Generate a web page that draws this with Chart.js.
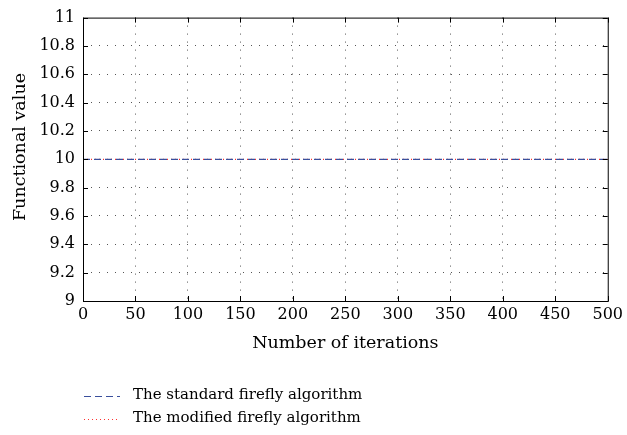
<!DOCTYPE html>
<html>
<head>
<meta charset="utf-8">
<script src="https://cdn.jsdelivr.net/npm/chart.js@4"></script>
<style>
  html, body { margin: 0; padding: 0; background: #fff; }
  canvas { display: block; }
</style>
</head>
<body>
<canvas id="chart" width="627" height="435"></canvas>
<script>
const iterations = [0, 50, 100, 150, 200, 250, 300, 350, 400, 450, 500];
const standardValues = [10, 10, 10, 10, 10, 10, 10, 10, 10, 10, 10];
const modifiedValues = [10, 10, 10, 10, 10, 10, 10, 10, 10, 10, 10];
const seriesLabels = ["The standard firefly algorithm", "The modified firefly algorithm"];
const xTitle = "Number of iterations";
const yTitle = "Functional value";

const FONT = "'DejaVu Serif', serif";
const GRID = "#555";

function toPoints(xs, ys) {
  return xs.map((x, i) => ({ x, y: ys[i] }));
}

// hide the grid lines that sit on the frame
function innerGrid(ctx) {
  const s = ctx.scale;
  const v = ctx.tick && ctx.tick.value;
  return v === s.min || v === s.max ? "rgba(0,0,0,0)" : GRID;
}

// frame, inward ticks on all sides, y title and the legend under the axis
const framePlugin = {
  id: "frame",
  afterDraw(chart) {
    const { ctx, chartArea: a, scales } = chart;
    ctx.save();
    ctx.strokeStyle = "#000";
    ctx.lineWidth = 1;
    ctx.setLineDash([]);
    ctx.strokeRect(a.left + 0.5, a.top + 0.5, a.right - a.left, a.bottom - a.top);

    const len = 5;
    ctx.beginPath();
    scales.x.ticks.forEach((t) => {
      const px = Math.round(scales.x.getPixelForValue(t.value)) + 0.5;
      ctx.moveTo(px, a.bottom);
      ctx.lineTo(px, a.bottom - len);
      ctx.moveTo(px, a.top);
      ctx.lineTo(px, a.top + len);
    });
    scales.y.ticks.forEach((t) => {
      const py = Math.round(scales.y.getPixelForValue(t.value)) + 0.5;
      ctx.moveTo(a.left, py);
      ctx.lineTo(a.left + len, py);
      ctx.moveTo(a.right, py);
      ctx.lineTo(a.right - len, py);
    });
    ctx.stroke();

    // y axis title
    ctx.fillStyle = "#000";
    ctx.font = "17.5px " + FONT;
    ctx.textAlign = "center";
    ctx.textBaseline = "middle";
    ctx.translate(20, 147);
    ctx.rotate(-Math.PI / 2);
    ctx.fillText(yTitle, 0, 0);
    ctx.setTransform(1, 0, 0, 1, 0, 0);

    // legend
    const rows = [
      { y: 396.5, color: "#3a4f9c", dash: [7, 4] },
      { y: 419.5, color: "#ff3030", dash: [1, 3] }
    ];
    ctx.font = "15px " + FONT;
    ctx.textAlign = "left";
    rows.forEach((r, i) => {
      ctx.strokeStyle = r.color;
      ctx.setLineDash(r.dash);
      ctx.beginPath();
      ctx.moveTo(84, r.y);
      ctx.lineTo(120, r.y);
      ctx.stroke();
      ctx.fillText(seriesLabels[i], 133, r.y - 1);
    });
    ctx.restore();
  }
};

new Chart(document.getElementById("chart"), {
  type: "scatter",
  data: {
    datasets: [
      {
        label: seriesLabels[0],
        data: toPoints(iterations, standardValues),
        showLine: true,
        borderColor: "#3a4f9c",
        borderWidth: 1.2,
        borderDash: [7, 4],
        pointRadius: 0
      },
      {
        label: seriesLabels[1],
        data: toPoints(iterations, modifiedValues),
        showLine: true,
        borderColor: "#ff3030",
        borderWidth: 1.2,
        borderDash: [1, 3],
        pointRadius: 0
      }
    ]
  },
  options: {
    responsive: false,
    animation: false,
    layout: { padding: { top: 15, right: 14, bottom: 81, left: 0 } },
    plugins: {
      legend: { display: false },
      tooltip: { enabled: false }
    },
    scales: {
      x: {
        type: "linear",
        min: 0,
        max: 500,
        ticks: { stepSize: 50, color: "#000", padding: 4, font: { family: FONT, size: 16 } },
        grid: { color: innerGrid, drawTicks: false, lineWidth: 1 },
        border: { display: false, dash: [1, 7] },
        title: {
          display: true,
          text: xTitle,
          color: "#000",
          font: { family: FONT, size: 17.5 },
          padding: { top: 4, bottom: 0 }
        },
        afterFit(scale) { scale.height = 53; }
      },
      y: {
        min: 9,
        max: 11,
        ticks: {
          stepSize: 0.2,
          color: "#000",
          padding: 8,
          font: { family: FONT, size: 16 },
          callback: (v) => String(parseFloat(v.toFixed(1)))
        },
        grid: { color: innerGrid, drawTicks: false, lineWidth: 1 },
        border: { display: false, dash: [1, 7] },
        afterFit(scale) { scale.width = 83; }
      }
    }
  },
  plugins: [framePlugin]
});
</script>
</body>
</html>
